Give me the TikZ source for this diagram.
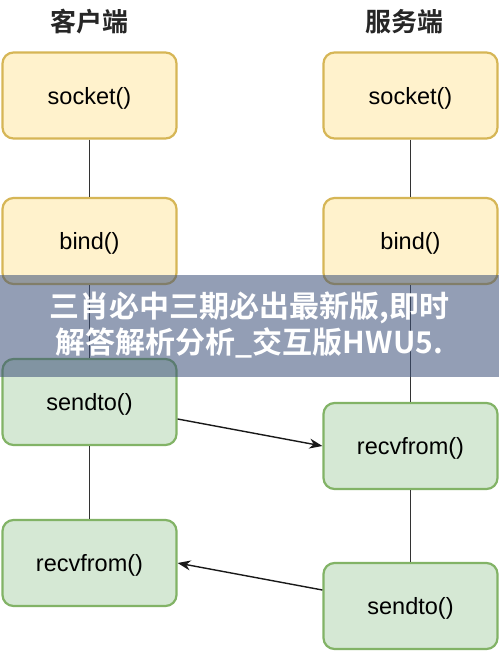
\documentclass[tikz,border=0pt]{standalone}
\usepackage{fontspec}
\setmainfont{Liberation Sans}
\newfontfamily\cjk{Noto Sans CJK SC}[BoldFont={Noto Sans CJK SC Bold}]
\usetikzlibrary{arrows.meta,positioning}
\definecolor{yfill}{HTML}{FFF2CC}
\definecolor{yline}{HTML}{D6B656}
\definecolor{gfill}{HTML}{D5E8D4}
\definecolor{gline}{HTML}{82B366}
\definecolor{conn}{HTML}{333333}
\definecolor{bandcol}{RGB}{60,80,122}
\begin{document}
\begin{tikzpicture}[x=1pt,y=-1pt,
  box/.style={draw, rounded corners=11pt, line width=2.2pt, minimum width=174pt, minimum height=86pt,
    inner sep=0pt, text depth=0pt, font=\fontsize{23.5}{27}\selectfont},
  ybox/.style={box, fill=yfill, draw=yline},
  gbox/.style={box, fill=gfill, draw=gline},
  link/.style={draw=conn, line width=1.4pt},
  msg/.style={draw=black!90, line width=1.4pt, -{Stealth[length=13pt,width=10pt]}},
  title/.style={font=\cjk\bfseries\fontsize{26}{30}\selectfont, text=black!85}]
\useasboundingbox (0,0) rectangle (499,653);
\fill[white] (0,0) rectangle (499,653);
% titles
\node[title] (tc) at (89.5,22) {客户端};
\node[title] (ts) at (404,22) {服务端};
% client
\node[ybox] (ls) at (89.5,95.5) {socket()};
\node[ybox] (lb) at (89.5,241) {bind()};
\node[gbox] (lsd) at (89.5,402) {sendto()};
\node[gbox] (lr) at (89.5,563) {recvfrom()};
% server
\node[ybox] (rs) at (410.5,95.5) {socket()};
\node[ybox] (rb) at (410.5,241) {bind()};
\node[gbox] (rr) at (410.5,446) {recvfrom()};
\node[gbox] (rsd) at (410.5,606) {sendto()};
% vertical links
\draw[link] (ls) -- (lb);
\draw[link] (lb) -- (lsd);
\draw[link] (lsd) -- (lr);
\draw[link] (rs) -- (rb);
\draw[link] (rb) -- (rr);
\draw[link] (rr) -- (rsd);
% messages
\draw[msg] ([yshift=-17pt]lsd.east) -- (rr.west);
\draw[msg] ([yshift=16pt]rsd.west) -- (lr.east);
% banner
\fill[bandcol, opacity=0.55] (0,275) rectangle (499,377);
\node[font=\cjk\bfseries\fontsize{30}{36}\selectfont, text=white, align=center] (band) at (249.5,325)
  {三肖必中三期必出最新版,即时\\解答解析分析\_交互版HWU5.};
\end{tikzpicture}
\end{document}
